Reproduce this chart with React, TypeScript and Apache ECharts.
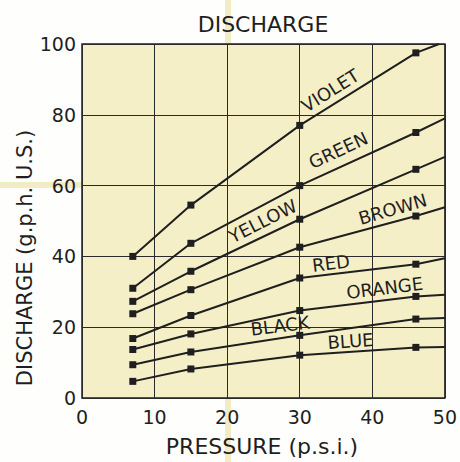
import React, { useEffect, useRef } from "react";
import * as echarts from "echarts";

// ---- data ----
const pressures = [7, 15, 30, 46];
const seriesNames = ["VIOLET", "GREEN", "YELLOW", "BROWN", "RED", "ORANGE", "BLACK", "BLUE"];
const violet = [40, 54.5, 77, 97.5];
const green = [31, 43.7, 60, 75];
const yellow = [27.3, 35.8, 50.5, 64.6];
const brown = [23.8, 30.6, 42.6, 51.4];
const red = [16.8, 23.3, 33.9, 37.8];
const orange = [13.7, 18.1, 24.7, 28.7];
const black = [9.4, 13.0, 17.7, 22.3];
const blue = [4.7, 8.2, 12.1, 14.3];
// where each curve leaves the plot (right edge / top edge)
const endX = [49.2, 50, 50, 50, 50, 50, 50, 50];
const endY = [100, 79, 68.1, 53.9, 39.5, 29.2, 22.6, 14.4];
const xTicks = [0, 10, 20, 30, 40, 50];
const yTicks = [0, 20, 40, 60, 80, 100];
// curve labels: [x, y, angle in degrees]
const labelAnchors: [number, number, number][] = [
  [34.2, 86.9, 32],
  [35.3, 70.0, 25],
  [24.9, 50.0, 27],
  [42.8, 53.4, 16],
  [34.3, 38.1, 7],
  [41.7, 31.1, 7],
  [27.3, 20.4, 7],
  [37.0, 16.1, 4],
];

const curves = [violet, green, yellow, brown, red, orange, black, blue];

const FONT = "DejaVu Sans";
const INK = "#1f1f1f";

export default function App() {
  const ref = useRef<HTMLDivElement>(null);
  useEffect(() => {
    if (!ref.current) return;
    const chart = echarts.init(ref.current, undefined, { renderer: "svg" });
    const lineSeries = curves.map((vals, i) => ({
      type: "line",
      name: seriesNames[i],
      data: [
        ...vals.map((v, j) => [pressures[j], v]),
        { value: [endX[i], endY[i]], symbol: "none" },
      ],
      symbol: "rect",
      symbolSize: 7,
      showSymbol: true,
      lineStyle: { color: INK, width: 2 },
      itemStyle: { color: INK },
      clip: true,
      z: 3,
    }));
    const labelStyle = {
      show: true,
      position: "inside",
      formatter: "{b}",
      fontFamily: FONT,
      fontSize: 18,
      color: INK,
      opacity: 1,
      textBorderWidth: 0,
      textBorderColor: "transparent",
    };
    const labelSeries = {
      type: "scatter",
      name: "labels",
      symbolSize: 1,
      itemStyle: { color: "rgba(0,0,0,0)", opacity: 1 },
      data: seriesNames.map((n, i) => ({
        name: n,
        value: [labelAnchors[i][0], labelAnchors[i][1]],
        label: { ...labelStyle, rotate: labelAnchors[i][2] },
      })),
      label: labelStyle,
      z: 4,
    };
    chart.setOption({
      animation: false,
      backgroundColor: "#fefefc",
      grid: {
        left: 82,
        right: 14,
        top: 44,
        bottom: 64,
        show: true,
        backgroundColor: "#f5efc8",
        borderColor: INK,
        borderWidth: 1.5,
      },
      xAxis: {
        type: "value",
        min: xTicks[0],
        max: xTicks[xTicks.length - 1],
        interval: 10,
        axisLine: { show: false },
        axisTick: { show: false },
        splitLine: { show: true, lineStyle: { color: "#2a2a2a", width: 1 } },
        axisLabel: { fontFamily: FONT, fontSize: 19, color: INK, margin: 9 },
      },
      yAxis: {
        type: "value",
        min: yTicks[0],
        max: yTicks[yTicks.length - 1],
        interval: 20,
        axisLine: { show: false },
        axisTick: { show: false },
        splitLine: { show: true, lineStyle: { color: "#2a2a2a", width: 1 } },
        axisLabel: { fontFamily: FONT, fontSize: 19, color: INK, margin: 6 },
      },
      graphic: [
        { type: "rect", z: -100, shape: { x: 225, y: 0, width: 6, height: 44 }, style: { fill: "#f2ecc4" } },
        { type: "rect", z: -100, shape: { x: 225, y: 398, width: 6, height: 64 }, style: { fill: "#f2ecc4" } },
        { type: "rect", z: -100, shape: { x: 0, y: 182, width: 82, height: 6 }, style: { fill: "#f2ecc4" } },
        {
          type: "text",
          x: 263,
          y: 24,
          style: {
            text: "DISCHARGE",
            font: `22px "${FONT}"`,
            fill: INK,
            textAlign: "center",
            textVerticalAlign: "middle",
          },
        },
        {
          type: "text",
          x: 262,
          y: 446,
          style: {
            text: "PRESSURE (p.s.i.)",
            font: `22px "${FONT}"`,
            fill: INK,
            textAlign: "center",
            textVerticalAlign: "middle",
          },
        },
        {
          type: "text",
          x: 25,
          y: 258,
          rotation: Math.PI / 2,
          style: {
            text: "DISCHARGE (g.p.h. U.S.)",
            font: `21px "${FONT}"`,
            fill: INK,
            textAlign: "center",
            textVerticalAlign: "middle",
          },
        },
      ],
      series: [...lineSeries, labelSeries],
    });
    return () => chart.dispose();
  }, []);
  return (
    <div
      ref={ref}
      style={{ position: "fixed", left: 0, top: 0, width: 460, height: 462 }}
    />
  );
}
